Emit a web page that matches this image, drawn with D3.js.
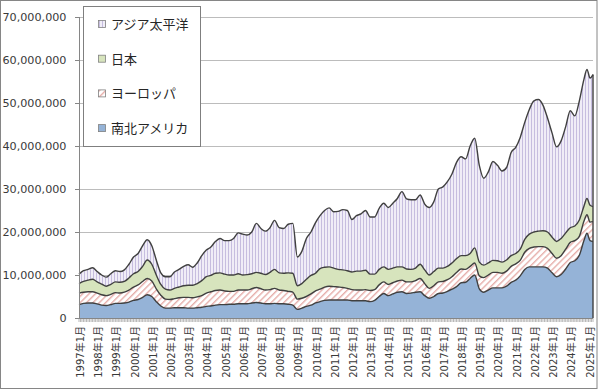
<!DOCTYPE html>
<meta charset="utf-8">
<style>
body { margin: 0; background: #fff; }
svg { display: block; font-family: "DejaVu Sans", "Noto Sans CJK JP", sans-serif; }
.grid line { stroke: #bcbcbc; stroke-width: 1px; }
.tick-label { fill: #3a3a3a; }
.layer-line { fill: none; stroke: #404040; stroke-width: 1.4px; }
.legend text { fill: #262626; font-size: 13px; }
</style>

<svg id="chart" width="600" height="391"></svg>

<script src="https://d3js.org/d3.v7.min.js"></script>
<script>
// values in millions (axis shows 0 .. 70,000,000)
var unit = 1e6;
var yTicks = [0, 10, 20, 30, 40, 50, 60, 70];
var seriesKeys = ["america", "europe", "japan", "asia"];
var seriesNames = ["南北アメリカ", "ヨーロッパ", "日本", "アジア太平洋"];

// sampled every 3 months 1997-01 .. 2024-10, then 2024-12, 2025-02, 2025-04
var america = [3.1,3.4,3.5,3.5, 3.3,3.0,2.9,3.1, 3.4,3.4,3.5,3.7, 4.1,4.3,4.8,5.4,
    5.0,3.8,2.8,2.3, 2.3,2.4,2.4,2.4, 2.3,2.3,2.4,2.5, 2.7,2.8,3.0,3.1,
    3.1,3.2,3.2,3.3, 3.3,3.3,3.5,3.6, 3.5,3.3,3.3,3.4, 3.3,3.3,3.2,3.0,
    2.0,2.3,2.7,3.0, 3.5,3.8,4.1,4.2, 4.2,4.2,4.2,4.2, 4.0,4.0,4.0,4.0,
    3.8,4.1,5.0,5.7, 5.2,5.6,6.0,6.1, 5.7,5.8,6.0,6.1, 5.2,4.6,5.0,5.7,
    5.8,6.2,6.7,7.3, 8.2,8.3,9.2,10.0, 6.8,6.0,6.5,7.0, 7.0,7.0,7.4,8.3,
    8.8,9.8,11.3,11.9, 11.9,11.9,11.9,11.6, 10.5,9.6,10.1,11.4, 12.9,13.3,14.6,18.0,
    19.7,18.0,17.8];
var europe = [2.7,2.6,2.6,2.6, 2.5,2.4,2.3,2.4, 2.5,2.4,2.5,2.8, 3.1,3.4,3.7,3.8,
    3.6,3.0,2.5,2.1, 2.0,2.1,2.3,2.4, 2.5,2.4,2.5,2.7, 3.1,3.3,3.4,3.4,
    3.2,3.0,3.0,3.2, 3.2,3.2,3.3,3.5, 3.3,3.2,3.3,3.5, 3.2,3.1,3.0,3.0,
    2.4,2.3,2.3,2.6, 2.8,2.9,3.1,3.2, 3.1,3.0,2.9,2.7, 2.6,2.5,2.5,2.6,
    2.6,2.5,2.7,2.7, 2.6,2.6,2.6,2.7, 2.7,2.6,2.7,3.1, 2.8,2.3,2.5,2.7,
    2.7,2.7,2.9,3.3, 3.2,3.0,2.8,2.8, 3.0,3.4,3.5,3.6, 3.6,3.4,3.5,3.7,
    3.8,3.6,4.0,4.3, 4.6,4.7,4.7,4.6, 4.5,4.3,4.4,4.6, 4.7,4.7,4.4,4.5,
    4.3,4.3,4.6];
var japan = [2.2,2.5,2.7,2.9, 2.6,2.5,2.2,2.3, 2.5,2.5,2.5,2.8, 3.1,3.1,3.5,4.3,
    3.9,3.2,2.5,2.3, 2.2,2.4,2.5,2.7, 2.8,2.9,3.1,3.5, 3.8,3.8,4.0,4.0,
    3.9,3.8,3.8,3.8, 3.5,3.6,3.5,3.5, 3.6,3.6,4.0,4.4, 4.0,4.0,4.3,4.4,
    3.1,3.4,4.0,4.3, 4.1,4.8,4.6,4.5, 4.3,4.1,4.1,4.1, 4.1,4.4,4.4,4.5,
    3.8,3.6,3.6,3.5, 3.5,3.4,3.3,3.1, 3.0,2.9,2.9,3.3, 3.2,3.1,3.3,3.2,
    3.1,3.1,3.2,3.2, 3.1,3.2,3.0,3.5, 3.2,2.9,2.8,2.8, 2.7,2.6,2.6,2.5,
    2.4,2.6,3.0,3.3, 3.5,3.6,3.7,3.8, 3.8,3.9,4.0,3.8, 3.4,3.4,3.8,3.5,
    3.8,3.9,3.5];
var asia = [2.2,2.5,2.5,2.7, 2.4,2.1,2.1,2.5, 2.6,2.5,2.7,3.2, 3.9,4.2,4.8,4.7,
    4.3,3.5,2.7,2.9, 3.1,3.8,4.1,4.5, 4.8,4.2,4.8,5.8, 6.2,6.6,7.4,8.0,
    7.8,8.0,8.5,9.5, 9.5,9.2,9.7,11.4, 10.4,10.1,10.4,11.4, 10.5,10.4,11.3,11.6,
    6.7,7.5,9.5,10.1, 11.8,12.3,13.2,13.7, 13.1,13.5,14.0,14.0, 12.2,12.9,13.3,13.9,
    13.3,13.3,14.2,14.8, 14.4,15.1,15.9,17.5, 16.3,16.2,15.9,16.1, 15.3,15.7,16.2,18.4,
    18.9,19.7,20.7,22.4, 23.0,22.5,25.0,25.5, 22.5,20.2,21.2,23.0, 22.2,21.2,21.5,24.0,
    24.7,26.0,27.2,29.0, 30.5,30.6,29.2,26.5, 24.2,22.0,22.7,24.7, 27.2,25.6,27.7,29.5,
    30.0,29.6,30.7];

var sampleDates = d3.timeMonth.every(3)
    .range(new Date(1997, 0, 1), new Date(2024, 10, 1))
    .concat([new Date(2024, 11, 1), new Date(2025, 1, 1), new Date(2025, 3, 1)]);

var rows = sampleDates.map(function(d, i) {
    return { date: d, america: america[i] * unit, europe: europe[i] * unit,
             japan: japan[i] * unit, asia: asia[i] * unit };
});

var svg = d3.select("#chart");
var plotLeft = 79, plotRight = 593, plotTop = 17, plotBottom = 318;

var x = d3.scaleTime()
    .domain([new Date(1997, 0, 1), new Date(2025, 3, 1)])
    .range([plotLeft, plotRight]);
var y = d3.scaleLinear()
    .domain([0, 70 * unit])
    .range([plotBottom, plotTop]);

// fill patterns
var defs = svg.append("defs");
var pa = defs.append("pattern").attr("id", "pat-asia")
    .attr("patternUnits", "userSpaceOnUse").attr("width", 3).attr("height", 10);
pa.append("rect").attr("width", 3).attr("height", 10).attr("fill", "#f0edf7");
pa.append("line").attr("x1", 0.5).attr("x2", 0.5).attr("y1", 0).attr("y2", 10)
    .attr("stroke", "#c6bddf").attr("stroke-width", 1);
var pe = defs.append("pattern").attr("id", "pat-europe")
    .attr("patternUnits", "userSpaceOnUse").attr("width", 4.5).attr("height", 4.5)
    .attr("patternTransform", "rotate(45)");
pe.append("rect").attr("width", 4.5).attr("height", 4.5).attr("fill", "#ffffff");
pe.append("line").attr("x1", 0.7).attr("x2", 0.7).attr("y1", 0).attr("y2", 4.5)
    .attr("stroke", "#e6aeaa").attr("stroke-width", 1.4);

var fills = {
    america: "#95b3d7",
    europe: "url(#pat-europe)",
    japan: "#d7e4bd",
    asia: "url(#pat-asia)"
};

// gridlines
svg.append("g").attr("class", "grid")
    .selectAll("line")
    .data(yTicks.slice(1))
    .enter().append("line")
    .attr("x1", plotLeft).attr("x2", plotRight)
    .attr("y1", function(d) { return Math.round(y(d * unit)) + 0.5; })
    .attr("y2", function(d) { return Math.round(y(d * unit)) + 0.5; });

var stack = d3.stack().keys(seriesKeys);
var layers = stack(rows);

var area = d3.area()
    .curve(d3.curveMonotoneX)
    .x(function(d) { return x(d.data.date); })
    .y0(function(d) { return y(d[0]); })
    .y1(function(d) { return y(d[1]); });
var topLine = d3.line()
    .curve(d3.curveMonotoneX)
    .x(function(d) { return x(d.data.date); })
    .y(function(d) { return y(d[1]); });

svg.append("g").attr("class", "areas")
    .selectAll("path")
    .data(layers)
    .enter().append("path")
    .attr("d", area)
    .attr("fill", function(d) { return fills[d.key]; });

svg.append("g")
    .selectAll("path")
    .data(layers)
    .enter().append("path")
    .attr("class", "layer-line")
    .attr("d", topLine);

// right edge of the stacked areas
var last = layers[layers.length - 1][rows.length - 1];
svg.append("line")
    .attr("x1", x(last.data.date)).attr("x2", x(last.data.date))
    .attr("y1", y(last[1])).attr("y2", y(0))
    .attr("stroke", "#404040").attr("stroke-width", 1.4);

// y axis
var yAxis = svg.append("g");
yAxis.append("line")
    .attr("x1", plotLeft + 0.5).attr("x2", plotLeft + 0.5)
    .attr("y1", plotTop).attr("y2", plotBottom + 0.5)
    .attr("stroke", "#868686");
yAxis.selectAll(".yt")
    .data(yTicks)
    .enter().append("line")
    .attr("x1", plotLeft - 4).attr("x2", plotLeft)
    .attr("y1", function(d) { return Math.round(y(d * unit)) + 0.5; })
    .attr("y2", function(d) { return Math.round(y(d * unit)) + 0.5; })
    .attr("stroke", "#868686");
yAxis.selectAll("text")
    .data(yTicks)
    .enter().append("text")
    .attr("class", "tick-label")
    .attr("x", 66.5)
    .attr("y", function(d) { return y(d * unit); })
    .attr("dy", "0.36em")
    .attr("text-anchor", "end")
    .attr("font-size", "11.2px")
    .text(function(d) { return d3.format(",")(d * unit); });

// x axis
var xAxis = svg.append("g");
xAxis.selectAll(".xt")
    .data(d3.timeMonth.range(new Date(1997, 0, 1), new Date(2025, 4, 1)))
    .enter().append("line")
    .attr("x1", function(d) { return x(d); }).attr("x2", function(d) { return x(d); })
    .attr("y1", plotBottom).attr("y2", plotBottom + 4)
    .attr("stroke", "#9a9a9a").attr("stroke-width", 0.7);
xAxis.append("line")
    .attr("x1", plotLeft).attr("x2", plotRight)
    .attr("y1", plotBottom + 0.5).attr("y2", plotBottom + 0.5)
    .attr("stroke", "#868686");
xAxis.selectAll("text")
    .data(d3.timeYear.range(new Date(1997, 0, 1), new Date(2025, 1, 1)))
    .enter().append("text")
    .attr("class", "tick-label")
    .attr("font-size", "10px")
    .attr("text-anchor", "end")
    .attr("dy", "0.35em")
    .attr("transform", function(d) { return "translate(" + (x(d) + 1.5) + "," + (plotBottom + 8) + ") rotate(-90)"; })
    .text(function(d) { return d.getFullYear() + "年1月"; });

// legend
var legend = svg.append("g").attr("class", "legend");
legend.append("rect")
    .attr("x", 83.5).attr("y", 6.5).attr("width", 117).attr("height", 140)
    .attr("fill", "#fff").attr("stroke", "#7f7f7f");
var legendKeys = seriesKeys.slice().reverse();
var legendNames = seriesNames.slice().reverse();
var item = legend.selectAll(".item")
    .data(legendKeys)
    .enter().append("g")
    .attr("transform", function(d, i) { return "translate(0," + (24 + i * 34.7) + ")"; });
item.append("rect")
    .attr("x", 98.5).attr("y", -3.5).attr("width", 7).attr("height", 7)
    .attr("fill", function(d) { return fills[d]; })
    .attr("stroke", "#808080").attr("stroke-width", 0.8);
item.append("text")
    .attr("x", 111).attr("y", 0).attr("dy", "0.38em")
    .text(function(d, i) { return legendNames[i]; });

// chart border
svg.append("rect")
    .attr("x", 0.5).attr("y", 0.5).attr("width", 596.5).attr("height", 388)
    .attr("fill", "none").attr("stroke", "#868686");
</script>
